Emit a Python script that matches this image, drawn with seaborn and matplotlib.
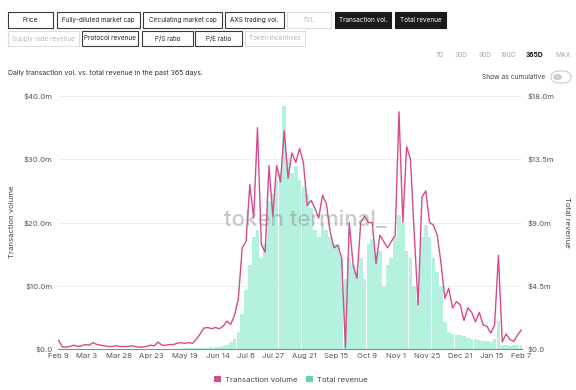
import numpy as np
import pandas as pd
import matplotlib
matplotlib.use("Agg")
import matplotlib.pyplot as plt
from matplotlib.patches import Rectangle, FancyBboxPatch, Patch, Circle
import seaborn as sns

sns.set_theme(style="white")
plt.rcParams['font.family'] = ['Inter', 'DejaVu Sans']

# data: one point every 3 days, Feb 9 2021 -> Feb 7 2022 (values in $m)
dates = pd.date_range("2021-02-09", periods=122, freq="3D")

tx_volume = [
    1.4, 0.3, 0.3, 0.4, 0.6, 0.4, 0.5, 0.7, 0.6, 1.0,
    0.7, 0.6, 0.5, 0.4, 0.4, 0.5, 0.4, 0.4, 0.4, 0.5,
    0.4, 0.3, 0.3, 0.4, 0.6, 0.5, 1.1, 0.6, 0.6, 0.7,
    0.7, 0.9, 1.0, 0.9, 1.0, 0.9, 1.5, 2.4, 3.3, 3.4,
    3.2, 3.4, 3.2, 3.6, 4.4, 3.9, 5.3, 8.0, 16.0, 17.0,
    26.0, 20.7, 35.0, 16.5, 15.3, 29.0, 21.0, 29.0, 26.4, 34.5,
    27.0, 31.0, 29.5, 31.7, 29.5, 22.7, 23.5, 22.3, 20.7, 24.3,
    23.0, 18.5, 16.0, 16.4, 14.4, 0.2, 20.0, 13.3, 11.2, 20.0,
    21.0, 20.0, 20.0, 13.5, 18.0, 17.0, 16.0, 17.0, 18.0, 37.5,
    20.0, 32.0, 30.0, 18.0, 7.0, 24.0, 25.0, 20.0, 19.6, 18.0,
    13.5, 8.0, 9.6, 6.5, 7.5, 7.0, 4.5, 6.5, 5.8, 4.3,
    5.8, 3.8, 3.6, 2.5, 3.8, 14.8, 1.1, 2.4, 1.5, 1.2,
    2.2, 3.0,
]

total_revenue = [
    0.02, 0.02, 0.02, 0.02, 0.02, 0.02, 0.02, 0.02, 0.02, 0.02,
    0.02, 0.02, 0.02, 0.02, 0.02, 0.02, 0.02, 0.02, 0.02, 0.02,
    0.02, 0.02, 0.02, 0.02, 0.02, 0.02, 0.03, 0.03, 0.03, 0.03,
    0.03, 0.03, 0.03, 0.05, 0.05, 0.05, 0.05, 0.08, 0.08, 0.08,
    0.12, 0.12, 0.12, 0.18, 0.3, 0.5, 0.7, 1.2, 2.5, 4.2,
    6.0, 8.0, 8.5, 6.5, 7.5, 10.5, 11.0, 12.0, 12.5, 17.3,
    13.5, 12.5, 13.0, 12.0, 11.5, 11.0, 10.0, 8.5, 8.0, 9.0,
    8.5, 8.0, 7.5, 7.5, 6.5, 5.0, 6.5, 6.0, 5.5, 6.5,
    5.0, 7.5, 7.8, 6.8, 7.0, 4.5, 6.0, 6.5, 8.0, 9.5,
    9.0, 7.0, 6.5, 4.5, 3.5, 8.0, 8.8, 8.0, 6.5, 5.5,
    4.5, 1.9, 1.2, 1.1, 1.0, 1.0, 0.9, 0.8, 0.7, 0.7,
    0.65, 0.6, 0.6, 0.5, 0.7, 2.0, 0.3, 0.25, 0.2, 0.25,
    0.3, 0.3,
]

tick_dates = ["2021-02-09", "2021-03-03", "2021-03-28", "2021-04-23", "2021-05-19",
              "2021-06-14", "2021-07-06", "2021-07-27", "2021-08-21", "2021-09-15",
              "2021-10-09", "2021-11-01", "2021-11-25", "2021-12-21", "2022-01-15",
              "2022-02-07"]
left_ticks = [0, 10, 20, 30, 40]
left_labels = ["$0.0", "$10.0m", "$20.0m", "$30.0m", "$40.0m"]
right_ticks = [0, 4.5, 9, 13.5, 18]
right_labels = ["$0.0", "$4.5m", "$9.0m", "$13.5m", "$18.0m"]

LINE = "#d54b8b"
BAR = "#b5f1df"
BAR_KEY = "#5fd4b4"
W, H = 576, 390

fig = plt.figure(figsize=(5.76, 3.9), dpi=100)


def button(l, t, r, b, text, kind="normal"):
    if kind == "active":
        face, edge, tc = "#1b1b1b", "#1b1b1b", "white"
    elif kind == "muted":
        face, edge, tc = "white", "#dddddd", "#b8b8b8"
    else:
        face, edge, tc = "white", "#3a3a3a", "#222222"
    fig.add_artist(Rectangle((l / W, 1 - b / H), (r - l) / W, (b - t) / H,
                             transform=fig.transFigure, facecolor=face,
                             edgecolor=edge, linewidth=0.8))
    fig.text((l + r) / 2 / W, 1 - (t + b) / 2 / H, text, ha="center", va="center",
             fontsize=4.6, color=tc)


button(8, 12, 53, 28, "Price")
button(57, 12, 140, 28, "Fully-diluted market cap")
button(143, 12, 222, 28, "Circulating market cap")
button(225, 12, 284, 28, "AXS trading vol.")
button(287, 12, 331, 28, "TVL", "muted")
button(335, 12, 391, 28, "Transaction vol.", "active")
button(395, 12, 446, 28, "Total revenue", "active")
button(8, 31, 79, 46, "Supply-side revenue", "muted")
button(82, 31, 138, 46, "Protocol revenue")
button(142, 31, 193, 46, "P/S ratio")
button(195, 31, 242, 46, "P/E ratio")
button(245, 31, 305, 46, "Token incentives", "muted")

for lbl, xp in zip(["7D", "30D", "90D", "180D", "365D", "MAX"], [440, 461, 485, 509, 534, 563]):
    bold = lbl == "365D"
    fig.text(xp / W, 1 - 55 / H, lbl, ha="center", va="center", fontsize=4.8,
             color="#111111" if bold else "#aaaaaa", fontweight="bold" if bold else "normal")

fig.text(8 / W, 1 - 73 / H, "Daily transaction vol. vs. total revenue in the past 365 days.",
         ha="left", va="center", fontsize=5.0, color="#333333")
fig.text(545 / W, 1 - 77 / H, "Show as cumulative", ha="right", va="center",
         fontsize=4.8, color="#444444")
fig.add_artist(FancyBboxPatch((551 / W, 1 - 83 / H), 20 / W, 12 / H,
                              boxstyle="round,pad=0,rounding_size=0.015",
                              transform=fig.transFigure, facecolor="white",
                              edgecolor="#cccccc", linewidth=0.8))
fig.add_artist(Circle((557.5 / W, 1 - 77 / H), 0.008, transform=fig.transFigure,
                      facecolor="#cfcfcf", edgecolor="none"))

ax = fig.add_axes([58 / W, 41 / H, 464 / W, 253 / H])
ax2 = ax.twinx()

ax2.bar(dates, total_revenue, width=2.9, color=BAR, linewidth=0)
sns.lineplot(x=dates, y=tx_volume, ax=ax, color=LINE, linewidth=1.0)

ax.set_zorder(ax2.get_zorder() + 1)
ax.patch.set_visible(False)

ax.set_xlim(pd.Timestamp("2021-02-08 12:00"), pd.Timestamp("2022-02-07 12:00"))
ax.set_ylim(0, 40)
ax2.set_ylim(0, 18)

ticks = pd.to_datetime(tick_dates)
ax.set_xticks(ticks)
ax.set_xticklabels([f"{d.strftime('%b')} {d.day}" for d in ticks])
ax.set_yticks(left_ticks)
ax.set_yticklabels(left_labels)
ax2.set_yticks(right_ticks)
ax2.set_yticklabels(right_labels)

ax2.set_axisbelow(True)
ax2.yaxis.grid(True, color="#eeeeee", linewidth=0.7)
ax.grid(False)

for a in (ax, ax2):
    for s in a.spines.values():
        s.set_visible(False)
    a.tick_params(length=0, labelsize=5.6, labelcolor="#555555", pad=4)
    a.set_xlabel("")
    a.set_ylabel("")
ax.spines["bottom"].set_visible(True)
ax.spines["bottom"].set_color("#888888")
ax.spines["bottom"].set_linewidth(0.8)
ax.tick_params(axis="x", pad=3)

fig.text(12 / W, 1 - 222 / H, "Transaction volume", rotation=90, ha="center",
         va="center", fontsize=5.6, color="#444444")
fig.text(567 / W, 1 - 222 / H, "Total revenue", rotation=270, ha="center",
         va="center", fontsize=5.6, color="#444444")

fig.text(305 / W, 1 - 220 / H, "token terminal_", ha="center", va="center",
         fontsize=16, color="#8a8a8a", alpha=0.45, fontweight="medium")

handles = [Patch(facecolor=LINE, edgecolor="none"), Patch(facecolor=BAR_KEY, edgecolor="none")]
fig.legend(handles, ["Transaction volume", "Total revenue"], loc="center",
           bbox_to_anchor=(0.505, 0.028), ncol=2, frameon=False, fontsize=5.6,
           handlelength=1.0, handleheight=1.0, columnspacing=1.0, handletextpad=0.5,
           labelcolor="#444444")

fig.savefig("out.png", dpi=100)
